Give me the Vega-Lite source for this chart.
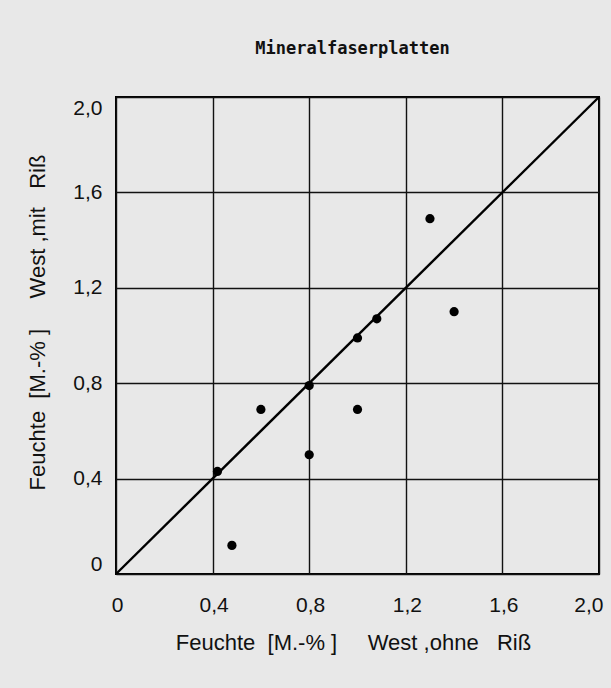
{
  "$schema": "https://vega.github.io/schema/vega-lite/v6.json",
  "width": 483,
  "height": 477,
  "autosize": {"type": "none"},
  "padding": {"left": 116, "top": 97, "right": 12, "bottom": 114},
  "background": "#e8e8e8",
  "title": {
    "text": "Mineralfaserplatten",
    "font": "DejaVu Sans Mono",
    "fontSize": 17,
    "fontWeight": "bold",
    "color": "#111111",
    "anchor": "middle",
    "dx": -5,
    "offset": 34
  },
  "config": {
    "view": {"stroke": "#000000", "strokeWidth": 2},
    "axis": {
      "labelFont": "Liberation Sans",
      "titleFont": "Liberation Sans",
      "labelFontSize": 21,
      "titleFontSize": 22,
      "titleFontWeight": "normal",
      "labelColor": "#111111",
      "titleColor": "#111111",
      "ticks": false,
      "domain": false,
      "gridColor": "#111111",
      "gridWidth": 1.4,
      "gridOpacity": 1
    }
  },
  "datasets": {
    "points": [
      {"ohne": 1.30, "mit": 1.49},
      {"ohne": 1.40, "mit": 1.10},
      {"ohne": 1.08, "mit": 1.07},
      {"ohne": 1.00, "mit": 0.99},
      {"ohne": 0.80, "mit": 0.79},
      {"ohne": 0.60, "mit": 0.69},
      {"ohne": 1.00, "mit": 0.69},
      {"ohne": 0.80, "mit": 0.50},
      {"ohne": 0.42, "mit": 0.43},
      {"ohne": 0.48, "mit": 0.12}
    ],
    "diagonal": [
      {"ohne": 0, "mit": 0},
      {"ohne": 2, "mit": 2}
    ]
  },
  "layer": [
    {
      "data": {"name": "diagonal"},
      "mark": {"type": "line", "color": "#000000", "strokeWidth": 2.4},
      "encoding": {
        "x": {
          "field": "ohne", "type": "quantitative",
          "scale": {"domain": [0, 2], "nice": false},
          "axis": {
            "values": [0, 0.4, 0.8, 1.2, 1.6, 2.0],
            "labelExpr": "datum.value == 0 ? '0' : replace(format(datum.value, '.1f'), '.', ',')",
            "labelPadding": 20,
            "labelFlush": false,
            "labelAlign": {"condition": {"test": "datum.value >= 2", "value": "right"}, "value": "center"},
            "labelOffset": {"condition": {"test": "datum.value >= 2", "value": 4}, "value": 1},
            "title": "Feuchte\u00a0\u00a0[M.-%\u00a0]\u00a0\u00a0\u00a0\u00a0\u00a0West\u00a0,ohne\u00a0\u00a0\u00a0Riß",
            "titleX": 237,
            "titleY": 68,
            "titleAlign": "center",
            "titleBaseline": "middle"
          }
        },
        "y": {
          "field": "mit", "type": "quantitative",
          "scale": {"domain": [0, 2], "nice": false},
          "axis": {
            "values": [0, 0.4, 0.8, 1.2, 1.6, 2.0],
            "labelExpr": "datum.value == 0 ? '0' : replace(format(datum.value, '.1f'), '.', ',')",
            "labelPadding": 14,
            "labelFlush": true,
            "title": "Feuchte\u00a0\u00a0[M.-%\u00a0]\u00a0\u00a0\u00a0\u00a0\u00a0West\u00a0,mit\u00a0\u00a0\u00a0Riß",
            "titleX": -79,
            "titleY": 225,
            "titleAngle": -90,
            "titleAlign": "center",
            "titleBaseline": "middle"
          }
        }
      }
    },
    {
      "data": {"name": "points"},
      "mark": {"type": "point", "filled": true, "color": "#000000", "opacity": 1, "size": 85},
      "encoding": {
        "x": {"field": "ohne", "type": "quantitative"},
        "y": {"field": "mit", "type": "quantitative"}
      }
    }
  ]
}
